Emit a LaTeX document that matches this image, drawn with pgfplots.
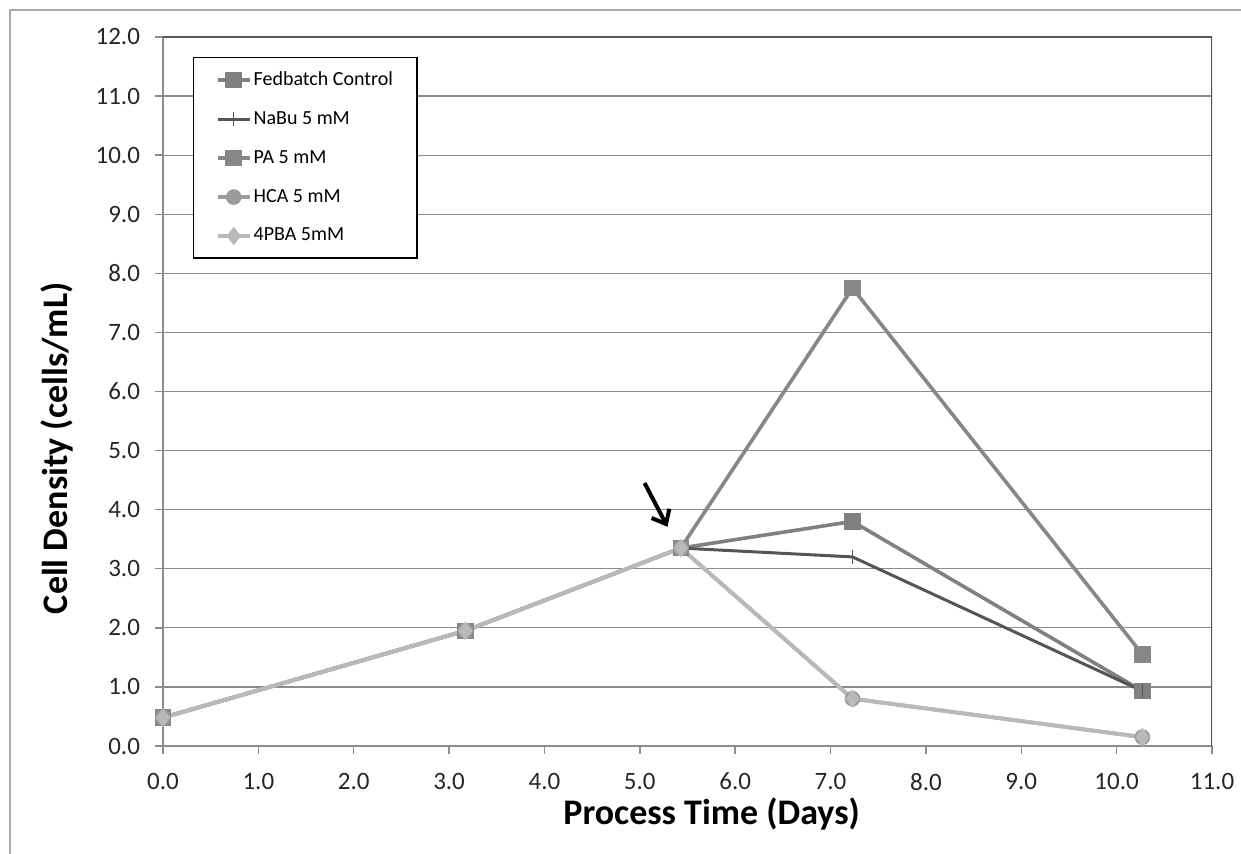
\documentclass[border=0pt]{standalone}
\usepackage{pgfplots}
\pgfplotsset{compat=1.18}
\usepackage{fontspec}
\setmainfont{Carlito}
\usetikzlibrary{arrows.meta}
\definecolor{cFed}{RGB}{128,128,128}
\definecolor{cNa}{RGB}{85,85,85}
\definecolor{cPA}{RGB}{135,135,135}
\definecolor{cHCA}{RGB}{155,155,155}
\definecolor{cPBA}{RGB}{185,185,185}
\definecolor{cAx}{RGB}{140,140,140}
\definecolor{cFrame}{RGB}{90,90,90}
\definecolor{cOuter}{RGB}{170,170,170}
\begin{document}
\begin{tikzpicture}
\path[use as bounding box] (0,0) rectangle (620.5pt,427pt);
\draw[cOuter, line width=0.8pt] (5pt,0pt) -- (5pt,422pt) -- (620.5pt,422pt);
\begin{axis}[
  at={(81.5pt,54pt)}, anchor=origin,
  scale only axis, width=524.5pt, height=354.5pt,
  xmin=0, xmax=11, ymin=0, ymax=12,
  xtick={0,1,...,11}, ytick={0,1,...,12},
  axis lines=left, axis line style={cAx, line width=0.7pt, -},
  tick align=outside, major tick length=4pt,
  tick style={cAx, line width=0.7pt},
  xtick pos=left, ytick pos=left,
  ymajorgrids, grid style={cAx, line width=0.6pt},
  /pgf/number format/assume math mode=true,
  /pgf/number format/.cd, fixed, fixed zerofill, precision=1, /pgfplots/.cd,
  ticklabel style={font=\fontsize{12.5}{14}\selectfont, text=black!85},
  yticklabel style={xshift=-4pt},
  xticklabel style={yshift=-6pt},
  xlabel={Process Time (Days)}, ylabel={Cell Density (cells/mL)},
  label style={font=\fontsize{18}{21}\selectfont\bfseries},
  xlabel style={at={(axis description cs:0.523,-0.1114)}, anchor=base},
  ylabel style={at={(axis description cs:-0.0915,0.42)}, anchor=base},
  legend cell align=left,
  legend image code/.code={\draw[mark repeat=2,mark phase=2,#1] plot coordinates {(0pt,0pt) (8pt,0pt) (16pt,0pt)};},
  legend style={at={(axis description cs:0.0286,0.972)}, anchor=north west,
    draw=black, line width=0.7pt, fill=white, font=\fontsize{10}{11}\selectfont,
    inner xsep=11pt, inner ysep=5pt, row sep=7.5pt,
    nodes={inner xsep=1pt}},
]
\addplot[cFed, line width=1.8pt, mark=square*, mark size=3.2pt, mark options={solid}]
  coordinates {(0,0.48) (3.17,1.95) (5.43,3.35) (7.23,3.80) (10.27,0.93)};
\addlegendentry{Fedbatch Control}
\addplot[cNa, line width=1.5pt, mark=|, mark size=3.5pt, mark options={solid, line width=0.8pt}]
  coordinates {(0,0.48) (3.17,1.95) (5.43,3.35) (7.23,3.20) (10.27,0.93)};
\addlegendentry{NaBu 5 mM}
\addplot[cPA, line width=1.8pt, mark=square*, mark size=3.2pt, mark options={solid}]
  coordinates {(0,0.48) (3.17,1.95) (5.43,3.35) (7.23,7.75) (10.27,1.55)};
\addlegendentry{PA 5 mM}
\addplot[cHCA, line width=1.8pt, mark=*, mark size=3pt, mark options={solid}]
  coordinates {(0,0.48) (3.17,1.95) (5.43,3.35) (7.23,0.80) (10.27,0.15)};
\addlegendentry{HCA 5 mM}
\addplot[cPBA, line width=2pt, mark=diamond*, mark size=3pt, mark options={solid}]
  coordinates {(0,0.48) (3.17,1.95) (5.43,3.35) (7.23,0.80) (10.27,0.15)};
\addlegendentry{4PBA 5mM}
\draw[cFrame, line width=0.9pt] (rel axis cs:0,1) -- (rel axis cs:1,1) -- (rel axis cs:1,0);
\draw[black, line width=2pt, -{Straight Barb[length=6pt, width=10pt]}] (axis cs:5.05,4.45) -- (axis cs:5.29,3.71);
\end{axis}
\end{tikzpicture}
\end{document}
